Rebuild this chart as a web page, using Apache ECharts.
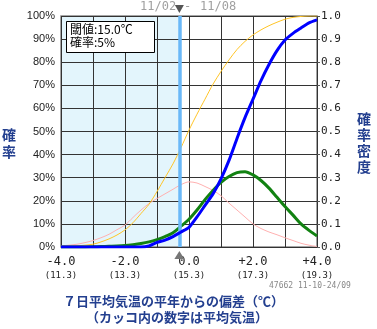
<!DOCTYPE html>
<html>
<head>
<meta charset="utf-8">
<script src="https://cdn.jsdelivr.net/npm/echarts@6/dist/echarts.min.js"></script>
<style>
html,body{margin:0;padding:0;background:#fff;}
#c{width:377px;height:329px;}
</style>
</head>
<body>
<div id="c"></div>
<script>
// deviation from normal (°C)
const xs = [-4,-3.75,-3.5,-3.25,-3,-2.75,-2.5,-2.25,-2,-1.75,-1.5,-1.25,-1,-0.75,-0.5,-0.25,0,0.25,0.5,0.75,1,1.25,1.5,1.75,2,2.25,2.5,2.75,3,3.25,3.5,3.75,4];
// climatological cumulative probability (%) - orange
const climCdf = [0.3,0.4,0.5,0.8,1.2,2.2,3.5,5.2,7.4,10.5,14.5,18.5,24,30,36,43,50.6,57.5,64,70.5,76,81,85.5,89,91.8,94,95.8,97.3,98.6,99.4,99.8,100,100];
// climatological probability density - pink
const climPdf = [0.005,0.008,0.012,0.019,0.028,0.04,0.055,0.075,0.095,0.128,0.16,0.188,0.21,0.23,0.25,0.27,0.282,0.277,0.262,0.245,0.222,0.19,0.16,0.13,0.1,0.08,0.065,0.053,0.04,0.028,0.016,0.008,0.002];
// forecast cumulative probability (%) - blue
const fcstCdf = [0,0,0,0,0,0,0,0,0,0,0,0.5,2,3,4.5,6.5,8.5,13,18,23,29.5,37.5,47,56,64,72,79,85,89.6,92.5,94.8,97,98.3];
// forecast probability density - green
const fcstPdf = [0,0,0,0,0.001,0.002,0.003,0.004,0.006,0.01,0.015,0.022,0.032,0.045,0.062,0.09,0.12,0.16,0.205,0.245,0.28,0.305,0.322,0.326,0.312,0.288,0.255,0.215,0.175,0.138,0.1,0.072,0.048];
// tick labels
const xTickDev = ['-4.0','-2.0','0.0','+2.0','+4.0'];
const xTickTemp = ['11.3','13.3','15.3','17.3','19.3'];
const thresholdDev = [-0.3];
const periodText = ['11/02','11/08'];
const boxText = ['閾値:15.0℃','確率:5%'];
const stampText = ['47662 11-10-24/09'];
const titleLines = ['７日平均気温の平年からの偏差（℃）','（カッコ内の数字は平均気温）'];

const pairs = arr => xs.map((x,i)=>[x,arr[i]]);
const thr = thresholdDev[0];
const navy = '#233f8f';
const mono = '"DejaVu Sans Mono", monospace';
const periodFont = '12px "DejaVu Sans Mono", monospace';

const chart = echarts.init(document.getElementById('c'), null, {renderer:'canvas'});
chart.setOption({
  animation:false,
  backgroundColor:'#fff',
  grid:{left:61,top:16,right:60,bottom:82,show:true,borderColor:'#888',borderWidth:1.5,backgroundColor:'transparent'},
  xAxis:{type:'value',min:-4,max:4,interval:1,
    axisLine:{show:false},axisTick:{show:false},
    splitLine:{show:true,lineStyle:{color:'#333',width:1}},
    axisLabel:{margin:8,formatter:v=>{ if(Math.abs(v%2)>1e-9) return ''; const i=Math.round((v+4)/2); return '{a|'+xTickDev[i]+'}\n{b|('+xTickTemp[i]+')}';},
      rich:{a:{fontFamily:mono,fontSize:12,lineHeight:14,color:'#222'},b:{fontFamily:mono,fontSize:9,lineHeight:13,color:'#222'}}}
  },
  yAxis:[
    {type:'value',min:0,max:100,interval:10,position:'left',
      axisLine:{show:false},axisTick:{show:false},
      splitLine:{show:true,lineStyle:{color:'#333',width:1}},
      axisLabel:{formatter:'{value}%',fontFamily:'"Liberation Sans", Arial, sans-serif',fontSize:11,color:'#222',margin:6}},
    {type:'value',min:0,max:1,interval:0.1,position:'right',
      axisLine:{show:false},axisTick:{show:true,length:3,lineStyle:{color:'#555'}},
      splitLine:{show:false},
      axisLabel:{formatter:v=>v.toFixed(1),fontFamily:mono,fontSize:11,color:'#222',margin:4}}
  ],
  series:[
    {type:'line',z:-1,data:[[thr,0]],symbol:'none',lineStyle:{opacity:0},silent:true,
      markArea:{z:-1,silent:true,itemStyle:{color:'#e3f5fc'},data:[[{xAxis:-4},{xAxis:thr}]]}},
    {type:'line',name:'climPdf',yAxisIndex:1,data:pairs(climPdf),symbol:'none',smooth:0.3,lineStyle:{color:'#ffb0b0',width:1}},
    {type:'line',name:'climCdf',yAxisIndex:0,data:pairs(climCdf),symbol:'none',smooth:0.3,lineStyle:{color:'#ffc426',width:1}},
    {type:'line',z:3,data:[[thr,0]],symbol:'none',lineStyle:{opacity:0},silent:true,
      markLine:{silent:true,symbol:['none','none'],label:{show:false},lineStyle:{color:'#6ab8f8',width:3.5,type:'solid'},data:[{xAxis:thr}]},
      markPoint:{silent:true,label:{show:false},data:[
        {coord:[thr,100],symbol:'triangle',symbolSize:[9,8],symbolRotate:180,symbolOffset:[0,-7],itemStyle:{color:'#555'}},
        {coord:[thr,0],symbol:'triangle',symbolSize:[10,8],symbolOffset:[0,8],itemStyle:{color:'#777'}}
      ]}},
    {type:'line',name:'fcstPdf',yAxisIndex:1,z:4,data:pairs(fcstPdf),symbol:'none',smooth:0.3,lineStyle:{color:'#128212',width:3}},
    {type:'line',name:'fcstCdf',yAxisIndex:0,z:5,data:pairs(fcstCdf),symbol:'none',smooth:0.2,lineStyle:{color:'#0000ff',width:3}}
  ],
  graphic:[
    {type:'text',left:140,top:1,style:{text:periodText[0],font:periodFont,fill:'#a0a0a0'}},
    {type:'text',left:184,top:1,style:{text:'-',font:periodFont,fill:'#a0a0a0'}},
    {type:'text',left:200,top:1,style:{text:periodText[1],font:periodFont,fill:'#a0a0a0'}},
    {type:'rect',left:66,top:21,shape:{width:88,height:31},style:{fill:'#fff',stroke:'#000',lineWidth:1},z:10},
    {type:'text',left:70,top:23,style:{text:boxText.join('\n'),font:'12px "Noto Sans CJK JP", sans-serif',lineHeight:13,fill:'#000'},z:11},
    {type:'text',left:2,top:126,style:{text:'確\n率',font:'bold 14px "Noto Sans CJK JP", sans-serif',lineHeight:17,fill:navy}},
    {type:'text',left:357,top:111,style:{text:'確\n率\n密\n度',font:'bold 14px "Noto Sans CJK JP", sans-serif',lineHeight:16,fill:navy}},
    {type:'text',left:269,top:282,style:{text:stampText[0],font:'8px "DejaVu Sans Mono", monospace',fill:'#888'}},
    {type:'text',left:63,top:295,style:{text:titleLines[0],font:'bold 13px "Noto Sans CJK JP", sans-serif',fill:navy}},
    {type:'text',left:86,top:311,style:{text:titleLines[1],font:'bold 13px "Noto Sans CJK JP", sans-serif',fill:navy}}
  ]
});
</script>
</body>
</html>
